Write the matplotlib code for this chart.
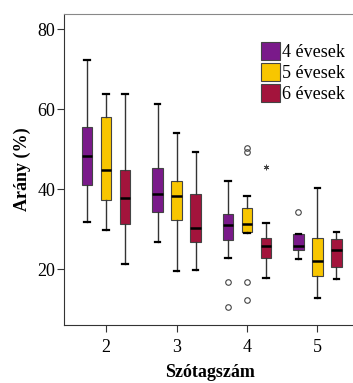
import matplotlib
matplotlib.use('Agg')
import matplotlib.pyplot as plt
from matplotlib.patches import Patch

# syllable counts on the x axis
syllables = [2, 3, 4, 5]
groups = ['4 évesek', '5 évesek', '6 évesek']
colors = ['#7a1a8a', '#f8c600', '#a3143c']

# box statistics per group, one entry per syllable count
# (whislo, q1, median, q3, whishi)
stats_4 = [(31.8, 41.0, 48.3, 55.6, 72.3),
           (26.8, 34.3, 38.9, 45.2, 61.3),
           (22.9, 27.3, 31.0, 33.9, 42.0),
           (22.5, 24.9, 25.8, 28.9, 28.9)]
stats_5 = [(29.8, 37.4, 44.9, 58.1, 63.8),
           (19.5, 32.3, 38.3, 42.1, 54.1),
           (29.0, 29.2, 31.3, 35.3, 38.3),
           (12.8, 18.3, 22.0, 27.8, 40.4)]
stats_6 = [(21.2, 31.4, 37.7, 44.8, 63.8),
           (19.9, 26.8, 30.3, 38.7, 49.3),
           (17.9, 22.7, 25.8, 27.8, 31.6),
           (17.5, 20.6, 24.8, 27.5, 29.3)]

# outliers (circles)
fliers_4 = [[], [], [16.8, 10.6], [34.3]]
fliers_5 = [[], [], [50.2, 49.3, 16.8, 12.3], []]
fliers_6 = [[], [], [], []]
# extreme values (stars)
extreme_x = [4]
extreme_group = [2]
extreme_y = [45.6]

all_stats = [stats_4, stats_5, stats_6]
all_fliers = [fliers_4, fliers_5, fliers_6]
offsets = [-0.27, 0.0, 0.27]

plt.rcParams['font.family'] = ['Liberation Serif', 'DejaVu Serif']

fig = plt.figure(figsize=(3.53, 3.83), dpi=100)
ax = fig.add_axes([0.181, 0.151, 0.83, 0.812])

for g in range(3):
    bstats = []
    for i, s in enumerate(all_stats[g]):
        bstats.append({'whislo': s[0], 'q1': s[1], 'med': s[2], 'q3': s[3],
                       'whishi': s[4], 'fliers': all_fliers[g][i]})
    pos = [x + offsets[g] for x in syllables]
    ax.bxp(bstats, positions=pos, widths=0.145, capwidths=0.08,
           patch_artist=True, showfliers=True,
           boxprops=dict(facecolor=colors[g], edgecolor='#444444', linewidth=0.8),
           medianprops=dict(color='black', linewidth=1.8),
           whiskerprops=dict(color='#333333', linewidth=1.0),
           capprops=dict(color='black', linewidth=1.6),
           flierprops=dict(marker='o', markerfacecolor='none',
                           markeredgecolor='#444444', markersize=4,
                           markeredgewidth=0.8))

for x, g, y in zip(extreme_x, extreme_group, extreme_y):
    ax.plot(x + offsets[g], y, marker=(6, 2, 0), color='#444444',
            markersize=4, markeredgewidth=0.6, linestyle='none')

ax.set_xlim(1.4, 5.56)
ax.set_ylim(6, 83.8)
ax.set_xticks(syllables)
ax.set_xticklabels([str(s) for s in syllables])
ax.set_yticks([20, 40, 60, 80])
ax.tick_params(axis='both', labelsize=13, length=5, width=0.8, color='#333333')
ax.tick_params(axis='y', pad=1)
ax.tick_params(axis='x', pad=5)
ax.spines['left'].set_color('#333333')
ax.spines['bottom'].set_color('#333333')
ax.spines['top'].set_color('#888888')
ax.spines['right'].set_visible(False)

ax.set_xlabel('Szótagszám', fontsize=13, fontweight='bold', labelpad=6)
ax.set_ylabel('Arány (%)', fontsize=13, fontweight='bold', labelpad=5)

handles = [Patch(facecolor=c, edgecolor='#444444', linewidth=0.8) for c in colors]
ax.legend(handles, groups, loc='upper right', bbox_to_anchor=(0.985, 0.935),
          frameon=False, fontsize=13, handlelength=1.1, handleheight=1.2,
          handletextpad=0.1, labelspacing=0.1, borderaxespad=0)

fig.savefig('out.png', dpi=100)
